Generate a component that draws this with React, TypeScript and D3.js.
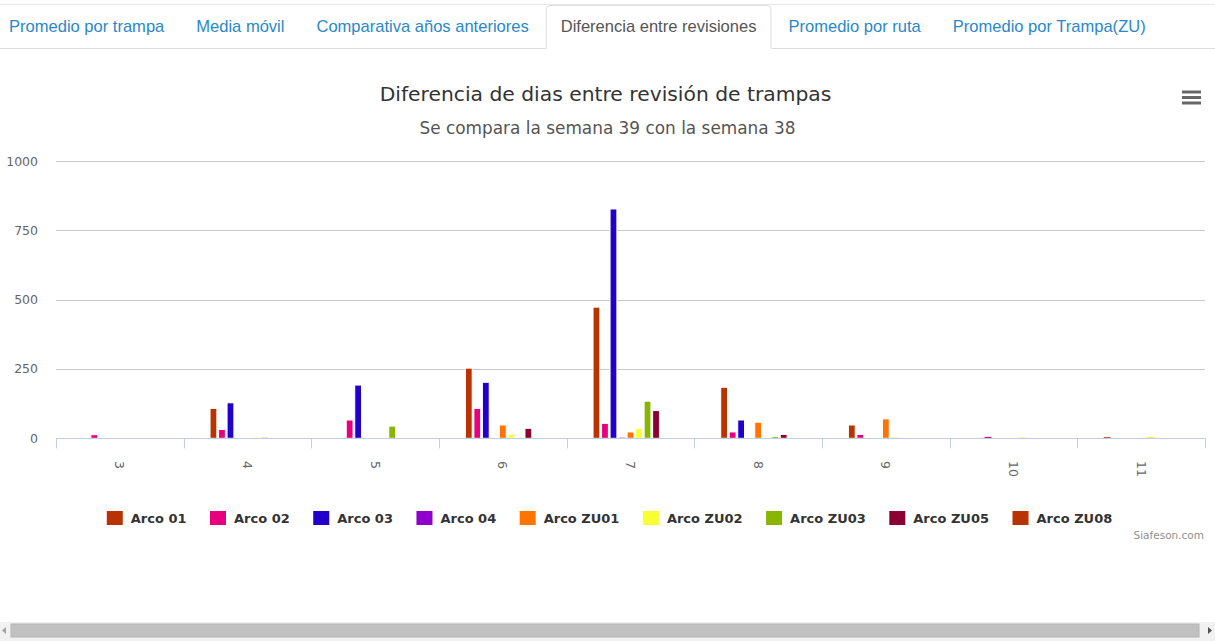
import React from "react";
import * as d3 from "d3";

const categories = ["3", "4", "5", "6", "7", "8", "9", "10", "11"];
const seriesNames = ["Arco 01", "Arco 02", "Arco 03", "Arco 04", "Arco ZU01", "Arco ZU02", "Arco ZU03", "Arco ZU05", "Arco ZU08"];
const seriesColors = ["#B83300", "#E6007E", "#2200CC", "#8E00CC", "#FF7400", "#F8FF33", "#88B600", "#8B0030", "#B83300"];
const arco01 = [0, 108, 0, 253, 473, 184, 48, 0, 4];
const arco02 = [13, 32, 66, 108, 54, 23, 14, 5, 0];
const arco03 = [0, 128, 192, 202, 827, 66, 0, 0, 0];
const arco04 = [0, 0, 0, 0, 2, 0, 0, 0, 0];
const arcoZU01 = [0, 0, 0, 48, 23, 58, 70, 1, 0];
const arcoZU02 = [0, 2, 0, 14, 36, 0, 3, 3, 5];
const arcoZU03 = [0, 2, 44, 0, 134, 7, 0, 0, 0];
const arcoZU05 = [0, 0, 0, 36, 100, 14, 0, 0, 0];
const arcoZU08 = [0, 0, 0, 0, 0, 0, 0, 0, 0];
const seriesValues = [arco01, arco02, arco03, arco04, arcoZU01, arcoZU02, arcoZU03, arcoZU05, arcoZU08];
const yTicks = [0, 250, 500, 750, 1000];
const tabs = ["Promedio por trampa", "Media móvil", "Comparativa años anteriores", "Diferencia entre revisiones", "Promedio por ruta", "Promedio por Trampa(ZU)"];
const activeTab = 3;
const titleText = "Diferencia de dias entre revisión de trampas";
const subtitleText = "Se compara la semana 39 con la semana 38";
const creditText = "Siafeson.com";

const W = 1215, H = 641;
const plotL = 56, plotR = 1205, plotT = 161, plotB = 438.3;

let ctx: CanvasRenderingContext2D | null = null;
function measure(text: string, font: string): number {
  if (!ctx) ctx = document.createElement("canvas").getContext("2d");
  if (!ctx) return text.length * 8;
  ctx.font = font;
  return ctx.measureText(text).width;
}

export default function App() {
  const x = d3.scaleBand<string>().domain(categories).range([plotL, plotR]).padding(0);
  const bw = x.bandwidth();
  const inner = d3.scaleBand<string>().domain(seriesNames)
    .range([bw * 0.2, bw * 0.8]).paddingInner(0.2).paddingOuter(0.1);
  const y = d3.scaleLinear().domain([0, 1000]).range([plotB, plotT]);

  const tabFontSize = 16.55;
  const tabFont = `${tabFontSize}px 'Liberation Sans', Arial, sans-serif`;
  const tabPos: { x: number; w: number }[] = [];
  let tx = 9;
  tabs.forEach((t) => {
    const w = measure(t, tabFont);
    tabPos.push({ x: tx, w });
    tx += w + 32;
  });
  const act = tabPos[activeTab];

  const legFont = "bold 13px 'DejaVu Sans', sans-serif";
  const symW = 16, symPad = 8, itemDist = 23.5;
  const legWidths = seriesNames.map((n) => symW + symPad + measure(n, legFont));
  const legTotal = d3.sum(legWidths) + itemDist * (seriesNames.length - 1);
  let lx = 609.5 - legTotal / 2;
  const legPos = legWidths.map((w) => { const p = lx; lx += w + itemDist; return p; });

  const ticksBoundaries = categories.map((c) => x(c)!).concat([plotR]);

  return (
    <svg width={W} height={H} style={{ position: "absolute", left: 0, top: 0, display: "block", background: "#fff" }}>
      {/* tabs */}
      <line x1={0} x2={W} y1={4.5} y2={4.5} stroke="#e8e8e8" />
      <line x1={0} x2={act.x - 15} y1={48.5} y2={48.5} stroke="#ddd" />
      <line x1={act.x + act.w + 15} x2={W} y1={48.5} y2={48.5} stroke="#ddd" />
      <path d={`M${act.x - 15 + 0.5},48.5 V9.5 Q${act.x - 15 + 0.5},5.5 ${act.x - 11 + 0.5},5.5 H${act.x + act.w + 11 - 0.5} Q${act.x + act.w + 15 - 0.5},5.5 ${act.x + act.w + 15 - 0.5},9.5 V48.5`} fill="#fff" stroke="#ddd" />
      {tabs.map((t, i) => (
        <text key={t} x={tabPos[i].x} y={32} fontFamily="'Liberation Sans', Arial, sans-serif" fontSize={tabFontSize}
          fill={i === activeTab ? "#555" : "#2a88c8"}>{t}</text>
      ))}

      {/* titles */}
      <text x={W / 2 - 2} y={101} textAnchor="middle" fontFamily="'DejaVu Sans', sans-serif" fontSize={20.3} fill="#333">{titleText}</text>
      <text x={W / 2} y={134} textAnchor="middle" fontFamily="'DejaVu Sans', sans-serif" fontSize={16.9} fill="#555">{subtitleText}</text>

      {/* menu icon */}
      {[92, 97.5, 103].map((yy) => (
        <line key={yy} x1={1182} x2={1201} y1={yy} y2={yy} stroke="#666" strokeWidth={3} />
      ))}

      {/* grid */}
      {yTicks.filter((t) => t > 0).map((t) => (
        <line key={t} x1={plotL} x2={plotR} y1={Math.round(y(t)) + 0.5} y2={Math.round(y(t)) + 0.5} stroke="#c8c8c8" />
      ))}
      {yTicks.map((t) => (
        <text key={t} x={38} y={y(t) + 4.5} textAnchor="end" fontFamily="'DejaVu Sans', sans-serif" fontSize={12.5} fill="#666">{t}</text>
      ))}

      {/* bars */}
      {seriesValues.map((vals, si) =>
        vals.map((v, ci) => {
          if (!v) return null;
          const bx = x(categories[ci])! + inner(seriesNames[si])!;
          const top = y(v);
          return (
            <rect key={`${si}-${ci}`} x={bx} y={top} width={inner.bandwidth()} height={plotB - top}
              fill={seriesColors[si]} stroke="#fff" strokeWidth={v > 5 ? 1 : 0} />
          );
        })
      )}

      {/* x axis */}
      <line x1={plotL} x2={plotR} y1={Math.round(plotB) + 0.5} y2={Math.round(plotB) + 0.5} stroke="#C0D0E0" />
      {ticksBoundaries.map((b, i) => (
        <line key={i} x1={Math.round(b) + 0.5} x2={Math.round(b) + 0.5} y1={plotB} y2={plotB + 10} stroke="#C0D0E0" />
      ))}
      {categories.map((c) => (
        <text key={c} transform={`translate(${x(c)! + bw / 2},461) rotate(90)`} dy="0.35em"
          fontFamily="'DejaVu Sans', sans-serif" fontSize={12.5} fill="#666">{c}</text>
      ))}

      {/* legend */}
      {seriesNames.map((n, i) => (
        <g key={n} transform={`translate(${legPos[i]},0)`}>
          <rect x={0} y={511} width={symW} height={14} fill={seriesColors[i]} />
          <text x={symW + symPad} y={523} fontFamily="'DejaVu Sans', sans-serif" fontWeight="bold" fontSize={13} fill="#333">{n}</text>
        </g>
      ))}

      {/* credits */}
      <text x={1204} y={539} textAnchor="end" fontFamily="'DejaVu Sans', sans-serif" fontSize={10.5} fill="#909090">{creditText}</text>

      {/* scrollbar */}
      <rect x={0} y={622} width={W} height={19} fill="#f1f1f1" />
      <rect x={11} y={624} width={1188} height={13} fill="#c1c1c1" stroke="#b5b5b5" />
      <path d="M2,630.5 L6,627 L6,634 Z" fill="#a3a3a3" />
      <path d="M1212,630.5 L1208,627 L1208,634 Z" fill="#505050" />
    </svg>
  );
}
